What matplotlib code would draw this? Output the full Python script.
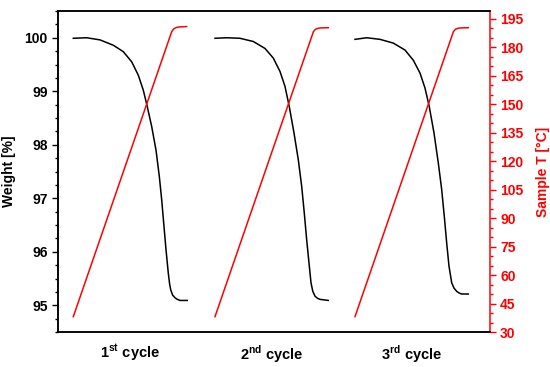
import numpy as np
import matplotlib
matplotlib.use("Agg")
import matplotlib.pyplot as plt
from matplotlib.ticker import MultipleLocator

plt.rcParams['font.family'] = ['Liberation Sans', 'DejaVu Sans']
plt.rcParams['font.weight'] = 'bold'
plt.rcParams['mathtext.fontset'] = 'custom'
plt.rcParams['mathtext.rm'] = 'Liberation Sans:bold'
plt.rcParams['mathtext.bf'] = 'Liberation Sans:bold'

RED = '#ff0000'

# ---------------------------------------------------------------
#  DATA (time in arbitrary units per cycle)
# ---------------------------------------------------------------
cycle_labels = [r'1$^{\mathbf{st}}$ cycle', r'2$^{\mathbf{nd}}$ cycle', r'3$^{\mathbf{rd}}$ cycle']
cycle_start = [15.3, 157.0, 297.0]
cycle_length = 114.0

t_w1 = [0, 13.4, 26.7, 40, 50, 58.4, 65, 70, 74, 78.4, 82.7, 86, 88.4, 90.7, 92.7, 95,
        96.3, 97.4, 99.3, 101.7, 104, 106.7, 114]
w1 = [99.99, 100.00, 99.96, 99.86, 99.74, 99.55, 99.30, 99.02, 98.71, 98.34, 97.90, 97.41,
      96.97, 96.47, 96.04, 95.60, 95.40, 95.29, 95.19, 95.14, 95.11, 95.09, 95.09]

t_w2 = [0, 11.7, 25, 38.3, 50, 58.3, 65, 70, 74.3, 79, 83.3, 86.7, 89.3, 91.7, 94, 96,
        97.8, 100, 102.5, 105, 113.3]
w2 = [99.99, 100.00, 99.99, 99.93, 99.80, 99.62, 99.37, 99.09, 98.71, 98.22, 97.72, 97.22,
      96.72, 96.22, 95.79, 95.42, 95.26, 95.17, 95.13, 95.11, 95.09]

t_w3 = [0, 11.7, 25, 38.3, 50, 58.3, 65, 70, 74.3, 79, 83.3, 86.7, 89.3, 91.7, 94, 96.7,
        99, 101.7, 104, 106.7, 113.3]
w3 = [99.97, 100.00, 99.97, 99.90, 99.77, 99.58, 99.34, 99.06, 98.71, 98.22, 97.66, 97.16,
      96.66, 96.16, 95.73, 95.42, 95.32, 95.26, 95.23, 95.21, 95.21]

t_T = [0, 98.4, 100.5, 103.0, 106.0, 113.3]
T1 = [38.1, 188.3, 189.8, 190.5, 190.8, 191.0]
T2 = [38.1, 188.3, 189.6, 190.1, 190.3, 190.4]
T3 = [38.1, 188.3, 189.6, 190.1, 190.3, 190.4]

weights = [(t_w1, w1), (t_w2, w2), (t_w3, w3)]
temps = [T1, T2, T3]

# ---------------------------------------------------------------
#  FIGURE
# ---------------------------------------------------------------
fig = plt.figure(figsize=(5.5, 3.67), dpi=100)
ax = fig.add_axes([58 / 550, 35 / 367, 432 / 550, 321 / 367])
ax2 = ax.twinx()

for start, (tw, w), T in zip(cycle_start, weights, temps):
    ax.plot(np.array(tw) + start, w, color='black', lw=1.1)
    ax2.plot(np.array(t_T) + start, T, color=RED, lw=1.1)

ax.set_xlim(0, 432)
ax.set_ylim(94.5, 100.5)
ax2.set_ylim(30, 199.2)

ax.set_xticks([s + cycle_length / 2 for s in cycle_start])
ax.set_xticklabels(cycle_labels, fontsize=10.5, fontweight='bold')
ax.tick_params(axis='x', length=0, pad=8)

ax.yaxis.set_major_locator(MultipleLocator(1))
ax.yaxis.set_minor_locator(MultipleLocator(0.25))
ax.tick_params(axis='y', which='major', length=4.3, width=1, labelsize=10, pad=3)
ax.tick_params(axis='y', which='minor', length=2.4, width=1)

ax2.yaxis.set_major_locator(MultipleLocator(15))
ax2.yaxis.set_minor_locator(MultipleLocator(5))
ax2.tick_params(axis='y', which='major', length=4.3, width=1, labelsize=10, pad=3,
                color=RED, labelcolor=RED)
ax2.tick_params(axis='y', which='minor', length=2.4, width=1, color=RED)

for lab in ax.get_yticklabels() + ax2.get_yticklabels():
    lab.set_fontweight('bold')

for sp in ['top', 'bottom', 'left']:
    ax.spines[sp].set_linewidth(1.1)
    ax2.spines[sp].set_linewidth(1.1)
ax2.spines['right'].set_color(RED)
ax2.spines['right'].set_linewidth(1.1)
ax.spines['right'].set_visible(False)

ax.set_ylabel('Weight [%]', fontsize=10, fontweight='bold')
ax.yaxis.set_label_coords(-0.098, 0.5)
ax2.set_ylabel('Sample T [°C]', fontsize=10, fontweight='bold', color=RED)
ax2.yaxis.set_label_coords(1.106, 0.5)

fig.savefig('out.png', dpi=100)
